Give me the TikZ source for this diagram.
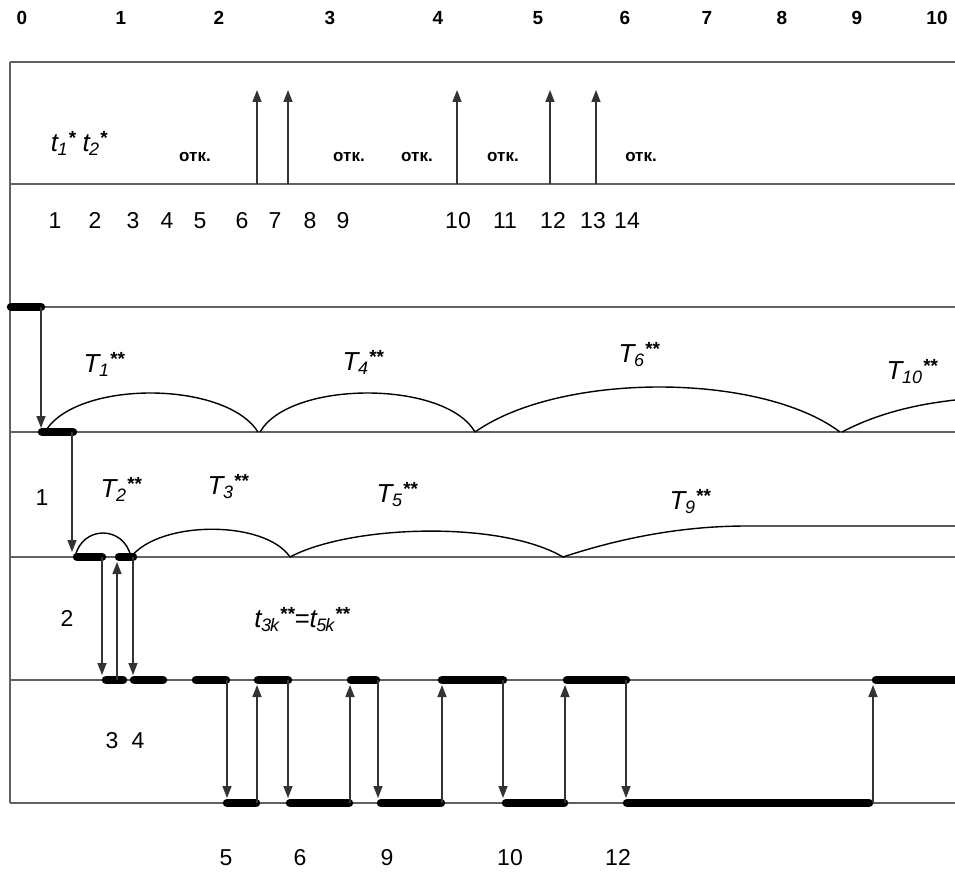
\documentclass[tikz,border=0pt]{standalone}
\usepackage{fontspec}
\setmainfont{Liberation Sans}
\usetikzlibrary{arrows.meta}
% italic name with an index and stars
\newcommand\idxlbl[3]{#1\kern-0.5pt\raisebox{-4pt}{\fontsize{18}{18}\selectfont #2}\kern0.5pt\raisebox{7pt}{\fontsize{19}{19}\selectfont\bfseries #3}}
\begin{document}
\begin{tikzpicture}[x=1pt,y=-1pt,
  rule/.style={draw=black!62, line width=1.9pt},
  bar/.style={line width=8.5pt, line cap=round},
  sig/.style={draw=black!80, line width=1.6pt, -{Triangle[length=12pt,width=9pt]}},
  arcl/.style={line width=1.4pt},
  axis/.style={font=\fontsize{19}{21}\selectfont\bfseries, inner sep=0pt, anchor=base},
  num/.style={font=\fontsize{23}{26}\selectfont, inner sep=0pt, anchor=base},
  lab/.style={font=\fontsize{26}{30}\selectfont\itshape, inner sep=0pt},
  otk/.style={font=\fontsize{17}{19}\selectfont\bfseries, inner sep=0pt, anchor=base},
]
\useasboundingbox (0,0) rectangle (955,872);

% time scale
\foreach \v/\x in {0/22,1/121,2/219,3/330,4/438,5/538,6/625,7/707,8/782,9/857,10/937}
  \node[axis] (ax\v) at (\x,25) {\v};

% rows of the chart
\foreach \y [count=\i] in {62,184,307,432,557,680,803}
  \draw[rule] (10,\y) coordinate (rl\i) -- (955,\y) coordinate (rr\i);
\draw[rule] (rl1) -- (rl7);

% request arrows
\foreach \x [count=\i] in {257,288,457,550,596} {
  \coordinate (ua\i) at (\x,184);
  \coordinate (ut\i) at (\x,90);
  \draw[sig] (ua\i) -- (ut\i);
}

\node[lab] (tstar) at (79,143) {\idxlbl{t}{1}{*}\hspace{7pt}\idxlbl{t}{2}{*}};
\foreach \x [count=\i] in {195,349,417,503,641}
  \node[otk] (otk\i) at (\x,161) {отк.};

\foreach \v/\x in {1/55,2/95,3/133,4/167,5/200,6/242,7/275,8/310,9/343,10/458,11/505,12/553,13/593,14/627}
  \node[num] (n\v) at (\x,228) {\v};

% busy intervals
\draw[bar] (11,307) -- (41,307);
\draw[bar] (42,432) -- (73,432);
\foreach \a/\b in {77/102,119/133}
  \draw[bar] (\a,557) -- (\b,557);
\foreach \a/\b in {106/123,134/163,196/226,258/288,351/376,442/503,567/626,876/960}
  \draw[bar] (\a,680) -- (\b,680);
\foreach \a/\b in {227/256,290/349,381/441,506/564,627/869}
  \draw[bar] (\a,803) -- (\b,803);

% transfers between rows
\coordinate (s1) at (41,307); \coordinate (e1) at (41,428);
\draw[sig] (s1) -- (e1);
\coordinate (s2) at (72,432); \coordinate (e2) at (72,552);
\draw[sig] (s2) -- (e2);
\foreach \x/\ya/\yb [count=\i] in {102/557/675,117/680/562,133/557/675}{
  \coordinate (p\i) at (\x,\ya); \coordinate (q\i) at (\x,\yb);
  \draw[sig] (p\i) -- (q\i);
}
\foreach \x/\ya/\yb [count=\i] in {227/680/798,257/803/685,288/680/798,350/803/685,378/680/798,442/803/685,503/680/798,565/803/685,626/680/798,873/803/685}{
  \coordinate (g\i) at (\x,\ya); \coordinate (h\i) at (\x,\yb);
  \draw[sig] (g\i) -- (h\i);
}

% intervals T**
\draw[arcl] (45,432) .. controls (75,380) and (225,380) .. (258,432);
\draw[arcl] (260,432) .. controls (290,380) and (445,380) .. (475,432);
\draw[arcl] (475,432) .. controls (560,372) and (760,372) .. (840,432);
\draw[arcl] (842,432) .. controls (880,412) and (920,404) .. (955,400);
\draw[arcl] (75,557) .. controls (82,525) and (124,525) .. (131,557);
\draw[arcl] (131,557) .. controls (160,520) and (265,520) .. (290,557);
\draw[arcl] (290,557) .. controls (350,525) and (500,520) .. (563,557);
\draw[arcl] (563,557) .. controls (630,535) and (690,526) .. (747,526) -- (955,526);

\node[lab] (T1) at (104,364) {\idxlbl{T}{1}{**}};
\node[lab] (T4) at (363,362) {\idxlbl{T}{4}{**}};
\node[lab] (T6) at (639,355) {\idxlbl{T}{6}{**}};
\node[lab] (T10) at (912,372) {\idxlbl{T}{10}{**}};
\node[lab] (T2) at (121,489) {\idxlbl{T}{2}{**}};
\node[lab] (T3) at (228,487) {\idxlbl{T}{3}{**}};
\node[lab] (T5) at (397,495) {\idxlbl{T}{5}{**}};
\node[lab] (T9) at (690,502) {\idxlbl{T}{9}{**}};

\node[num] (r1) at (42,505) {1};
\node[num] (r2) at (67,626) {2};
\node[num] (r3) at (112,748) {3};
\node[num] (r4) at (138,748) {4};
\node[lab] (eq) at (302,620) {\idxlbl{t}{3\kern-1pt\textit{k}}{**}=\idxlbl{t}{5\kern-1pt\textit{k}}{**}};

\foreach \v/\x in {5/226,6/300,9/387,10/510,12/618}
  \node[num] (b\v) at (\x,865) {\v};
\end{tikzpicture}
\end{document}
